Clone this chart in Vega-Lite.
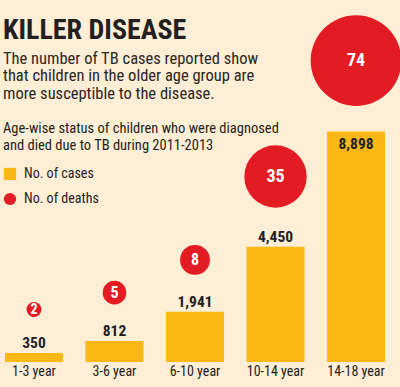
{
  "$schema": "https://vega.github.io/schema/vega-lite/v6.json",
  "autosize": {"type": "none"},
  "width": 390,
  "height": 252,
  "padding": {"left": 0, "top": 110, "right": 10, "bottom": 25},
  "background": "#fdeed5",
  "config": {
    "view": {"stroke": null},
    "font": "Roboto Condensed",
    "text": {"font": "Roboto Condensed"}
  },
  "title": {
    "text": "KILLER DISEASE",
    "subtitle": ["The number of TB cases reported show", "that children in the older age group are", "more susceptible to the disease."],
    "anchor": "start",
    "frame": "group",
    "dx": 3,
    "offset": -87,
    "font": "Roboto Condensed",
    "fontSize": 28,
    "fontWeight": "bold",
    "color": "#231f20",
    "subtitleFont": "Roboto Condensed",
    "subtitleFontSize": 16.5,
    "subtitleColor": "#2b2622",
    "subtitleLineHeight": 17.5,
    "subtitlePadding": 6
  },
  "data": {
    "values": [
      {"age": "1-3 year", "cases": 350, "deaths": 2},
      {"age": "3-6 year", "cases": 812, "deaths": 5},
      {"age": "6-10 year", "cases": 1941, "deaths": 8},
      {"age": "10-14 year", "cases": 4450, "deaths": 35},
      {"age": "14-18 year", "cases": 8898, "deaths": 74}
    ]
  },
  "encoding": {
    "x": {
      "field": "age",
      "type": "nominal",
      "sort": null,
      "scale": {"paddingInner": 0.28, "paddingOuter": 0.062},
      "axis": {
        "title": null,
        "domain": false,
        "ticks": false,
        "labelAngle": 0,
        "labelFont": "Roboto Condensed",
        "labelFontSize": 14,
        "labelColor": "#231f20",
        "labelPadding": 2
      }
    },
    "y": {
      "field": "cases",
      "type": "quantitative",
      "scale": {"domain": [0, 9730]},
      "axis": null
    }
  },
  "layer": [
    {
      "mark": {"type": "bar"},
      "encoding": {
        "color": {
          "datum": "No. of cases",
          "scale": {"domain": ["No. of cases", "No. of deaths"], "range": ["#fbb716", "#e31b23"]},
          "legend": {
            "orient": "none",
            "legendX": 3,
            "legendY": 12,
            "title": ["Age-wise status of children who were diagnosed", "and died due to TB during 2011-2013"],
            "titleFont": "Roboto Condensed",
            "titleFontSize": 14.5,
            "titleFontWeight": "normal",
            "titleColor": "#231f20",
            "titleLineHeight": 16.5,
            "titlePadding": 14,
            "titleLimit": 400,
            "labelFont": "Roboto Condensed",
            "labelFontSize": 14,
            "labelColor": "#231f20",
            "symbolSize": 150,
            "symbolOpacity": 1,
            "symbolStrokeWidth": 0,
            "rowPadding": 11,
            "labelOffset": 7,
            "encode": {
              "symbols": {
                "update": {
                  "shape": {"signal": "datum.label == 'No. of cases' ? 'square' : 'circle'"},
                  "fillOpacity": {"value": 1},
                  "strokeWidth": {"value": 0}
                }
              }
            }
          }
        }
      }
    },
    {
      "mark": {
        "type": "text",
        "fontWeight": "bold",
        "fontSize": 15.5,
        "color": "#231f20",
        "baseline": {"expr": "datum.cases > 8000 ? 'top' : 'bottom'"},
        "dy": {"expr": "datum.cases > 8000 ? 5 : -2"}
      },
      "encoding": {
        "text": {"field": "cases", "type": "quantitative", "format": ","}
      }
    },
    {
      "mark": {
        "type": "circle",
        "opacity": 1,
        "yOffset": {"expr": "-min(5.95*sqrt(datum.deaths)+35, 71)"}
      },
      "encoding": {
        "size": {
          "field": "deaths",
          "type": "quantitative",
          "scale": {"domain": [0, 74], "range": [0, 8230], "zero": true},
          "legend": null
        },
        "color": {"datum": "No. of deaths"}
      }
    },
    {
      "mark": {
        "type": "text",
        "fontWeight": "bold",
        "color": "white",
        "baseline": "middle",
        "fontSize": {"expr": "datum.deaths >= 30 ? 18 : datum.deaths >= 5 ? 16 : 14"},
        "yOffset": {"expr": "-min(5.95*sqrt(datum.deaths)+35, 71)"}
      },
      "encoding": {
        "text": {"field": "deaths", "type": "quantitative"}
      }
    }
  ]
}
